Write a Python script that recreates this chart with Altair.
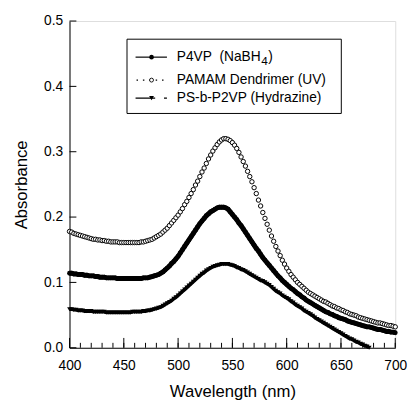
import altair as alt
import pandas as pd

# ---- data (2 nm steps) ----
wavelength = list(range(400, 701, 2))

pamam = [
    .178, .177, .175, .174, .173,
    .172, .171, .170, .169, .168,
    .167, .166, .166, .165, .165,
    .164, .164, .163, .163, .162,
    .162, .162, .162, .161, .161,
    .161, .161, .161, .161, .161,
    .161, .161, .161, .162, .162,
    .163, .164, .165, .166, .168,
    .170, .172, .174, .177, .180,
    .183, .187, .191, .195, .199,
    .203, .208, .213, .219, .224,
    .230, .236, .242, .249, .255,
    .262, .269, .275, .282, .289,
    .295, .301, .306, .311, .315,
    .318, .320, .320, .319, .317,
    .314, .310, .305, .299, .292,
    .285, .278, .270, .262, .254,
    .245, .236, .226, .217, .207,
    .198, .189, .180, .171, .163,
    .155, .148, .141, .134, .128,
    .122, .117, .112, .108, .104,
    .100, .097, .094, .091, .088,
    .085, .083, .081, .079, .077,
    .075, .073, .071, .070, .068,
    .066, .064, .063, .061, .060,
    .058, .057, .055, .054, .052,
    .051, .050, .049, .047, .046,
    .045, .044, .043, .042, .041,
    .040, .039, .038, .038, .037,
    .036, .035, .034, .034, .033,
    .032,
]

p4vp = [
    .114, .114, .113, .113, .112,
    .112, .112, .111, .111, .110,
    .110, .110, .109, .109, .108,
    .108, .108, .107, .107, .107,
    .107, .107, .106, .106, .106,
    .106, .106, .106, .106, .106,
    .106, .106, .106, .106, .107,
    .107, .107, .108, .109, .110,
    .111, .112, .114, .116, .119,
    .122, .125, .129, .132, .136,
    .140, .145, .150, .155, .160,
    .165, .170, .175, .180, .185,
    .190, .194, .198, .202, .205,
    .208, .210, .212, .214, .215,
    .215, .215, .214, .212, .208,
    .204, .200, .196, .191, .187,
    .182, .177, .172, .167, .162,
    .157, .152, .148, .143, .138,
    .134, .130, .126, .122, .118,
    .114, .110, .107, .103, .100,
    .097, .094, .091, .089, .086,
    .083, .081, .078, .076, .073,
    .071, .069, .067, .065, .063,
    .061, .059, .057, .055, .054,
    .052, .051, .049, .048, .046,
    .045, .044, .043, .041, .040,
    .039, .038, .037, .036, .035,
    .034, .033, .032, .032, .031,
    .030, .029, .028, .028, .027,
    .026, .025, .025, .024, .024,
    .023,
]

ps_wavelength = list(range(400, 677, 2))
ps_p2vp = [
    .059, .059, .058, .058, .057,
    .057, .057, .056, .056, .056,
    .056, .055, .055, .055, .055,
    .055, .055, .054, .054, .054,
    .054, .054, .054, .054, .054,
    .054, .054, .054, .054, .055,
    .055, .055, .055, .055, .056,
    .056, .057, .057, .058, .059,
    .060, .061, .062, .064, .066,
    .068, .070, .072, .075, .077,
    .080, .083, .086, .089, .092,
    .095, .098, .101, .104, .107,
    .110, .113, .115, .118, .120,
    .122, .124, .125, .126, .127,
    .128, .128, .128, .128, .127,
    .126, .125, .123, .122, .120,
    .119, .117, .115, .113, .111,
    .109, .107, .105, .103, .102,
    .100, .098, .096, .093, .090,
    .087, .085, .083, .080, .078,
    .076, .074, .071, .069, .066,
    .064, .062, .060, .057, .055,
    .053, .051, .049, .046, .044,
    .042, .040, .038, .036, .034,
    .032, .030, .028, .026, .024,
    .022, .020, .018, .016, .014,
    .013, .011, .009, .008, .006,
    .005, .003, .002, .000,
]

legend_labels = ["P4VP\u00a0\u00a0(NaBH", "PAMAM Dendrimer (UV)", "PS-b-P2VP (Hydrazine)"]
legend_sub = ["4", ")"]

x_major_ticks = [400, 450, 500, 550, 600, 650, 700]
x_minor_ticks = list(range(400, 701, 10))
y_ticks = [0.0, 0.1, 0.2, 0.3, 0.4, 0.5]

# ---- layout ----
W, H = 332, 333
FONT = "Liberation Sans"

df_pamam = pd.DataFrame({"wl": wavelength, "a": pamam})
df_p4 = pd.DataFrame({"wl": wavelength, "a": p4vp})
df_ps = pd.DataFrame({"wl": ps_wavelength, "a": ps_p2vp})

xs = alt.Scale(domain=[400, 700], nice=False, zero=False)
ys = alt.Scale(domain=[0, 0.5], nice=False)

xaxis = alt.Axis(values=x_major_ticks, ticks=False, domain=True, domainColor="black",
                 labelFontSize=14, labelPadding=11, labelColor="black", labelFont=FONT,
                 titleFontSize=17, titleFont=FONT, titleFontWeight="normal",
                 titleColor="black", titlePadding=12, grid=False, labelFlush=False)
yaxis = alt.Axis(values=y_ticks, format=".1f", ticks=False, domain=True, domainColor="black",
                 labelFontSize=14, labelPadding=7, labelColor="black", labelFont=FONT,
                 titleFontSize=17, titleFont=FONT, titleFontWeight="normal",
                 titleColor="black", titlePadding=13, grid=False, labelFlush=False)


def X(field="wl"):
    return alt.X(f"{field}:Q", scale=xs, axis=xaxis, title="Wavelength (nm)")


def Y(field="a"):
    return alt.Y(f"{field}:Q", scale=ys, axis=yaxis, title="Absorbance")


p4_line = alt.Chart(df_p4).mark_line(color="black", strokeWidth=5).encode(x=X(), y=Y())
p4_pts = alt.Chart(df_p4).mark_point(shape="circle", filled=True, size=24, color="black",
                                     opacity=1).encode(x=X(), y=Y())
ps_line = alt.Chart(df_ps).mark_line(color="black", strokeWidth=3.5).encode(x=X(), y=Y())
ps_pts = alt.Chart(df_ps).mark_point(shape="triangle-down", filled=True, size=24,
                                     color="black", opacity=1).encode(x=X(), y=Y())
pamam_pts = alt.Chart(df_pamam).mark_point(shape="circle", filled=True, fill="white",
                                           stroke="black", strokeWidth=1, size=20,
                                           opacity=1).encode(x=X(), y=Y())

# inward ticks
df_xmin = pd.DataFrame({"t": x_minor_ticks})
df_xmaj = pd.DataFrame({"t": x_major_ticks})
df_yt = pd.DataFrame({"t": y_ticks})
xminor = alt.Chart(df_xmin).mark_rule(color="black", strokeWidth=1).encode(
    x=X("t"), y=alt.value(H - 5), y2=alt.value(H))
xmajor = alt.Chart(df_xmaj).mark_rule(color="black", strokeWidth=1).encode(
    x=X("t"), y=alt.value(H - 10), y2=alt.value(H))
yticks = alt.Chart(df_yt).mark_rule(color="black", strokeWidth=1).encode(
    y=Y("t"), x=alt.value(0), x2=alt.value(7))

# legend (manual)
one = pd.DataFrame({"k": [0]})
row_y = [36.8, 60.2, 78.5]
lx0, lx1, lmark, ltext = 67.3, 99.3, 83.6, 109.3

leg_box = alt.Chart(one).mark_rect(fill="white", stroke="black", strokeWidth=1).encode(
    x=alt.value(58.6), x2=alt.value(277), y=alt.value(18.5), y2=alt.value(94.2))

leg_l1 = alt.Chart(one).mark_rule(color="black", strokeWidth=1.2).encode(
    x=alt.value(lx0), x2=alt.value(lx1), y=alt.value(row_y[0]))
leg_m1 = alt.Chart(one).mark_point(shape="circle", filled=True, color="black", size=22,
                                   opacity=1).encode(x=alt.value(lmark), y=alt.value(row_y[0]))
leg_l2 = alt.Chart(one).mark_rule(color="black", strokeWidth=1.3, strokeDash=[1.5, 5]).encode(
    x=alt.value(lx0 + 1), x2=alt.value(lx1), y=alt.value(row_y[1]))
leg_m2 = alt.Chart(one).mark_point(shape="circle", filled=True, fill="white", stroke="black",
                                   strokeWidth=0.9, size=16, opacity=1).encode(
    x=alt.value(lmark), y=alt.value(row_y[1]))
leg_l3 = alt.Chart(one).mark_rule(color="black", strokeWidth=1.2, strokeDash=[20, 9, 4, 20]).encode(
    x=alt.value(lx0), x2=alt.value(lx1), y=alt.value(row_y[2]))
leg_m3 = alt.Chart(one).mark_point(shape="triangle-down", filled=True, color="black", size=24,
                                   opacity=1).encode(x=alt.value(lmark), y=alt.value(row_y[2]))

df_leg = pd.DataFrame({"label": legend_labels, "ry": row_y})
leg_txts = [
    alt.Chart(df_leg.iloc[[i]]).mark_text(align="left", baseline="middle", fontSize=14,
                                          font=FONT, color="black").encode(
        x=alt.value(ltext), y=alt.value(row_y[i]), text="label:N")
    for i in range(3)
]
df_sub = pd.DataFrame({"s": legend_sub})
leg_sub4 = alt.Chart(df_sub.iloc[[0]]).mark_text(align="left", baseline="middle", fontSize=12,
                                                font=FONT, color="black").encode(
    x=alt.value(ltext + 86.2), y=alt.value(row_y[0] + 3.5), text="s:N")
leg_close = alt.Chart(df_sub.iloc[[1]]).mark_text(align="left", baseline="middle", fontSize=14,
                                                 font=FONT, color="black").encode(
    x=alt.value(ltext + 93.2), y=alt.value(row_y[0]), text="s:N")

chart = alt.layer(
    ps_line, ps_pts, p4_line, p4_pts, pamam_pts,
    xminor, xmajor, yticks,
    leg_box, leg_l1, leg_m1, leg_l2, leg_m2, leg_l3, leg_m3, *leg_txts, leg_sub4, leg_close,
).properties(
    width=W, height=H,
    autosize=alt.AutoSizeParams(type="none"),
    padding={"left": 62.7, "top": 9.5, "right": 14, "bottom": 52},
).configure_view(stroke="black", strokeWidth=1).configure(background="white")

chart.save("out.html", embed_options={"renderer": "svg", "actions": False})
